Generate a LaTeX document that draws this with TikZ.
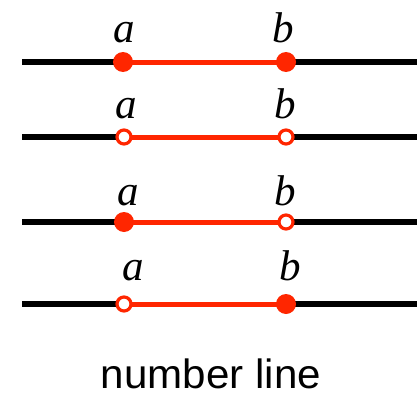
\documentclass[tikz,border=0pt]{standalone}
\usepackage{fontspec}
\setmainfont{Liberation Serif}
\setsansfont{Liberation Sans}
\definecolor{seg}{RGB}{255,38,0}
\begin{document}
\begin{tikzpicture}[x=1pt,y=-1pt,
  axis/.style={line width=6pt,black},
  interval/.style={line width=5pt,seg},
  closedpt/.style={circle,fill=seg,minimum size=20pt,inner sep=0pt},
  openpt/.style={circle,draw=seg,line width=3.2pt,fill=white,minimum size=14pt,inner sep=0pt},
  lbl/.style={font=\fontsize{43}{43}\selectfont\itshape,anchor=base,inner sep=0pt}]
\useasboundingbox (0,0) rectangle (417,396);
% row 1
\coordinate (l1) at (22,62); \coordinate (r1) at (417,62);
\coordinate (a1) at (123,62); \coordinate (b1) at (286,62);
\draw[axis] (l1) -- (a1); \draw[axis] (b1) -- (r1);
\draw[interval] (a1) -- (b1);
\node[closedpt] (ca1) at (a1) {}; \node[closedpt] (cb1) at (b1) {};
\node[lbl] (ta1) at (124,43) {a};
\node[lbl] (tb1) at (283,43) {b};
% row 2
\coordinate (l2) at (22,137); \coordinate (r2) at (417,137);
\coordinate (a2) at (124,137); \coordinate (b2) at (286,137);
\draw[axis] (l2) -- (a2); \draw[axis] (b2) -- (r2);
\draw[interval] (a2) -- (b2);
\node[openpt] (oa2) at (a2) {}; \node[openpt] (ob2) at (b2) {};
\node[lbl] (ta2) at (126,118) {a};
\node[lbl] (tb2) at (285,118) {b};
% row 3
\coordinate (l3) at (22,222); \coordinate (r3) at (417,222);
\coordinate (a3) at (124,222); \coordinate (b3) at (286,222);
\draw[axis] (l3) -- (a3); \draw[axis] (b3) -- (r3);
\draw[interval] (a3) -- (b3);
\node[closedpt] (ca3) at (a3) {}; \node[openpt] (ob3) at (b3) {};
\node[lbl] (ta3) at (128,205) {a};
\node[lbl] (tb3) at (285,205) {b};
% row 4
\coordinate (l4) at (22,304); \coordinate (r4) at (417,304);
\coordinate (a4) at (124,304); \coordinate (b4) at (286,304);
\draw[axis] (l4) -- (a4); \draw[axis] (b4) -- (r4);
\draw[interval] (a4) -- (b4);
\node[openpt] (oa4) at (a4) {}; \node[closedpt] (cb4) at (b4) {};
\node[lbl] (ta4) at (133,280) {a};
\node[lbl] (tb4) at (290,280) {b};
% caption
\node[font=\sffamily\fontsize{39}{39}\selectfont,anchor=base,inner sep=0pt,xscale=1.08,yscale=1.05] (cap) at (211,388) {number line};
\end{tikzpicture}
\end{document}
